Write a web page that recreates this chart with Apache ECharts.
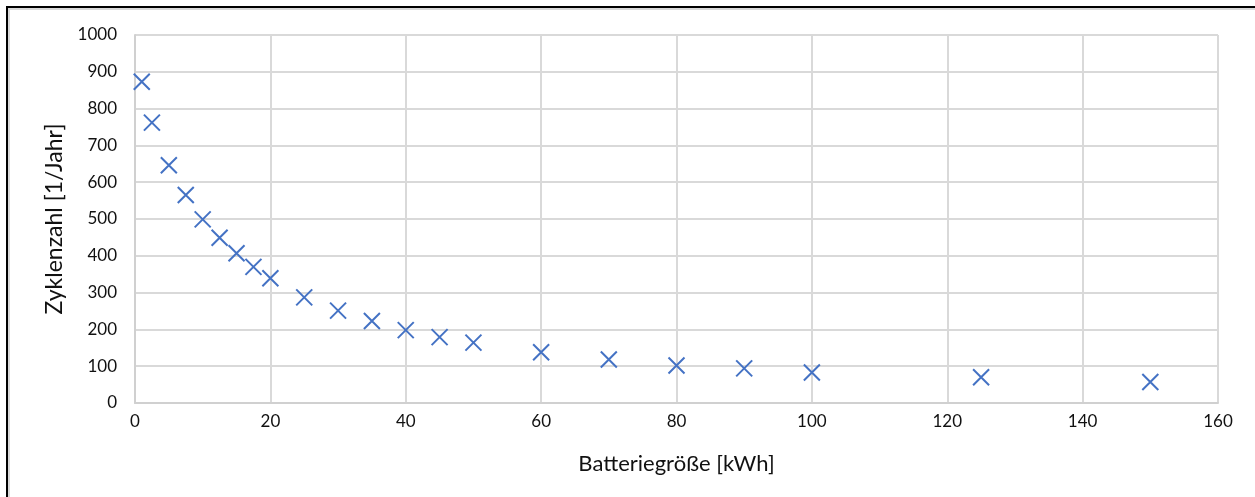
<!DOCTYPE html>
<html>
<head>
<meta charset="utf-8">
<script src="https://cdn.jsdelivr.net/npm/echarts@6/dist/echarts.min.js"></script>
<style>
html,body{margin:0;padding:0;background:#fff;}
#c{width:1255px;height:497px;}
</style>
</head>
<body>
<div id="c"></div>
<script>
const batterySizes = [1, 2.5, 5, 7.5, 10, 12.5, 15, 17.5, 20, 25, 30, 35, 40, 45, 50, 60, 70, 80, 90, 100, 125, 150];
const cycles = [873, 762, 646, 565, 499, 449, 407, 370, 339, 287, 251, 223, 198, 179, 164, 138, 118, 102, 94, 83, 70, 57];
const xTitle = 'Batteriegröße [kWh]';
const yTitle = 'Zyklenzahl [1/Jahr]';

const chart = echarts.init(document.getElementById('c'), null, {renderer: 'canvas'});
const font = 'Lato, "Open Sans", sans-serif';
chart.setOption({
  animation: false,
  backgroundColor: '#fff',
  textStyle: {fontFamily: font},
  graphic: [
    {type: 'rect', shape: {x: 9, y: 9, width: 1270, height: 520}, style: {fill: 'none', stroke: '#d9d9d9', lineWidth: 2}},
    {type: 'rect', shape: {x: 7, y: 7, width: 1270, height: 520}, style: {fill: 'none', stroke: '#000', lineWidth: 2}}
  ],
  grid: {left: 135, right: 37, top: 35, bottom: 94, containLabel: false},
  xAxis: {
    type: 'value', min: 0, max: 160, interval: 20,
    name: xTitle, nameLocation: 'middle', nameGap: 50,
    nameTextStyle: {fontSize: 22, color: '#111', fontFamily: font},
    axisLine: {show: true, onZero: false, lineStyle: {color: '#d0d0d0', width: 2}},
    axisTick: {show: false},
    axisLabel: {fontSize: 17, color: '#111', margin: 10, fontFamily: font, formatter: v => String(v)},
    splitLine: {show: true, lineStyle: {color: '#d9d9d9', width: 2}}
  },
  yAxis: {
    type: 'value', min: 0, max: 1000, interval: 100,
    name: yTitle, nameLocation: 'middle', nameGap: 69, nameRotate: 90,
    nameTextStyle: {fontSize: 23, color: '#111', fontFamily: font},
    axisLine: {show: true, lineStyle: {color: '#d0d0d0', width: 2}},
    axisTick: {show: false},
    axisLabel: {fontSize: 17, color: '#111', margin: 18, fontFamily: font, formatter: v => String(v)},
    splitLine: {show: true, lineStyle: {color: '#d9d9d9', width: 2}}
  },
  series: [{
    type: 'scatter',
    data: batterySizes.map((x, i) => [x, cycles[i]]),
    symbol: 'path://M0,0L10,10M10,0L0,10',
    symbolSize: 16,
    itemStyle: {color: 'rgba(0,0,0,0)', borderColor: '#4472C4', borderWidth: 2, opacity: 1}
  }]
});
</script>
</body>
</html>
